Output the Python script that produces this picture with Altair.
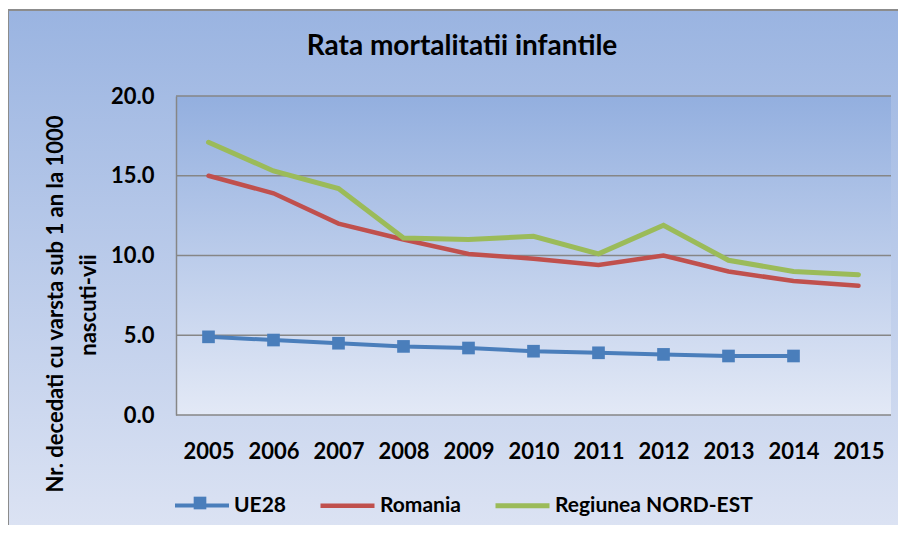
import altair as alt
import pandas as pd

years = ["2005", "2006", "2007", "2008", "2009", "2010", "2011", "2012", "2013", "2014", "2015"]
ue28 = [4.9, 4.7, 4.5, 4.3, 4.2, 4.0, 3.9, 3.8, 3.7, 3.7]
romania = [15.0, 13.9, 12.0, 11.0, 10.1, 9.8, 9.4, 10.0, 9.0, 8.4, 8.1]
nord_est = [17.1, 15.3, 14.2, 11.1, 11.0, 11.2, 10.1, 11.9, 9.7, 9.0, 8.8]
series = ["UE28", "Romania", "Regiunea NORD-EST"]
colors = ["#4a7ebb", "#c0504d", "#9bbb59"]
widths = [4, 5, 5]
y_ticks = [0, 5, 10, 15, 20]
title_text = "Rata mortalitatii infantile"
ytitle1 = "Nr. decedati cu varsta sub 1 an la 1000"
ytitle2 = "nascuti-vii"

rows = []
for name, vals in zip(series, [ue28, romania, nord_est]):
    for y, v in zip(years, vals):
        rows.append({"year": y, "value": v, "series": name})
df = pd.DataFrame(rows)

W, H = 715, 319
FONT = "Lato"
one = alt.Data(values=[{}])

outer_bg = alt.Chart(one).mark_rect(
    fill=alt.Gradient(gradient="linear", x1=0, y1=0, x2=0, y2=1,
                      stops=[alt.GradientStop(color="#9ab4e1", offset=0),
                             alt.GradientStop(color="#dfe5f4", offset=1)]),
    stroke="#8c8c8c", strokeWidth=2,
).encode(x=alt.value(-168), x2=alt.value(W + 40), y=alt.value(-86), y2=alt.value(H + 140))

plot_bg = alt.Chart(one).mark_rect(
    fill=alt.Gradient(gradient="linear", x1=0, y1=0, x2=0, y2=1,
                      stops=[alt.GradientStop(color="#93afdf", offset=0),
                             alt.GradientStop(color="#e3e9f6", offset=1)]),
).encode(x=alt.value(0), x2=alt.value(W), y=alt.value(0), y2=alt.value(H))

grid = alt.Chart(pd.DataFrame({"tick": y_ticks})).mark_rule(
    color="#868686", strokeWidth=1.5
).encode(y=alt.Y("tick:Q", scale=alt.Scale(domain=[0, 20]), title=None))

color_scale = alt.Scale(domain=series, range=colors)

legend = alt.Legend(
    title=None, orient="none", legendX=-3, legendY=380, direction="horizontal",
    symbolType="stroke", symbolSize=2916, symbolStrokeWidth=5,
    labelFontSize=21, labelFont=FONT, labelFontWeight="bold", labelColor="black",
    labelOffset=3, columnPadding=24, symbolOpacity=1, labelLimit=0,
)

base = alt.Chart(df).encode(
    x=alt.X("year:O", sort=years, scale=alt.Scale(padding=0.5),
            axis=alt.Axis(title=None, labelAngle=0, ticks=False, domain=False,
                          labelFontSize=22, labelFont=FONT, labelFontWeight="bold",
                          labelColor="black", labelPadding=26, zindex=1)),
    y=alt.Y("value:Q", scale=alt.Scale(domain=[0, 20]),
            axis=alt.Axis(values=y_ticks, format=".1f", grid=False, ticks=False,
                          domainColor="#868686", domainWidth=1.5,
                          labelFontSize=22, labelFont=FONT, labelFontWeight="bold",
                          labelColor="black", labelPadding=22, title=None, zindex=1)),
    color=alt.Color("series:N", scale=color_scale, legend=legend),
    strokeWidth=alt.StrokeWidth("series:N", scale=alt.Scale(domain=series, range=widths), legend=None),
)

lines = base.mark_line(strokeCap="round")
points = alt.Chart(df).transform_filter(alt.datum.series == "UE28").mark_square(
    size=160, opacity=1, filled=True
).encode(
    x=alt.X("year:O", sort=years),
    y=alt.Y("value:Q"),
    color=alt.Color("series:N", scale=color_scale, legend=None),
)

legend_square = alt.Chart(one).mark_square(
    size=160, opacity=1, filled=True, color=colors[0]
).encode(x=alt.value(24), y=alt.value(407))

title = alt.Chart(one).mark_text(
    text=title_text, font=FONT, fontSize=28, fontWeight="bold", color="black",
    align="center", baseline="middle"
).encode(x=alt.value(286), y=alt.value(-49))

yt1 = alt.Chart(one).mark_text(
    text=ytitle1, font=FONT, fontSize=22, fontWeight="bold", color="black",
    align="center", baseline="middle", angle=270
).encode(x=alt.value(-120), y=alt.value(208))

yt2 = alt.Chart(one).mark_text(
    text=ytitle2, font=FONT, fontSize=22, fontWeight="bold", color="black",
    align="center", baseline="middle", angle=270
).encode(x=alt.value(-87), y=alt.value(209))

chart = alt.layer(outer_bg, plot_bg, grid, lines, points, legend_square, title, yt1, yt2).properties(
    width=W, height=H,
    autosize=alt.AutoSizeParams(type="none"),
    padding={"left": 168, "top": 88, "right": 7, "bottom": 110},
    background="white",
).configure_view(stroke=None)

chart.save("out.html", embed_options={"renderer": "svg", "actions": False})
